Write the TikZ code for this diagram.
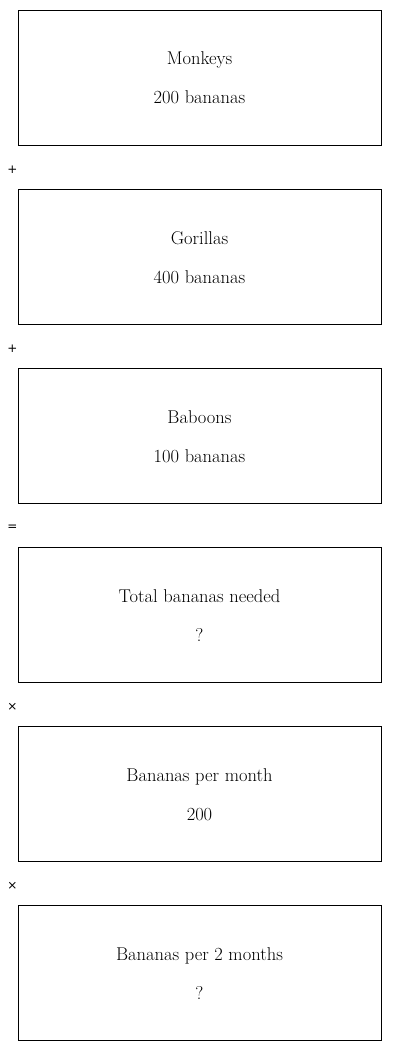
\documentclass[tikz,border=0pt]{standalone}
\usepackage{fontspec}
\newfontfamily\opfont{DejaVu Sans}
\begin{document}
\begin{tikzpicture}[x=1pt,y=-1pt,
  boxstyle/.style={draw, line width=0.9pt, minimum width=363pt, minimum height=135pt, inner sep=0pt},
  txt/.style={font=\fontsize{18.5}{22}\selectfont, inner sep=0pt, anchor=base},
  op/.style={font=\opfont\fontsize{12}{14}\selectfont, inner sep=0pt}]
\useasboundingbox (0,0) rectangle (400,1051);
\foreach \i/\name/\a/\b in {0/monkeys/Monkeys/200 bananas, 1/gorillas/Gorillas/400 bananas, 2/baboons/Baboons/100 bananas, 3/total/Total bananas needed/?, 4/permonth/Bananas per month/200, 5/twomonths/Bananas per 2 months/?}{
  \node[boxstyle] (\name) at (199.5, 77.5+179*\i) {};
  \node[txt] (\name-a) at (199.5, 65+179*\i) {\a};
  \node[txt] (\name-b) at (199.5, 104+179*\i) {\b};
}
\node[op] (op1) at (12.5,170) {+};
\node[op] (op2) at (12.5,349) {+};
\node[op] (op3) at (12.5,528) {=};
\node[op] (op4) at (12.5,707) {×};
\node[op] (op5) at (12.5,886) {×};
\end{tikzpicture}
\end{document}
